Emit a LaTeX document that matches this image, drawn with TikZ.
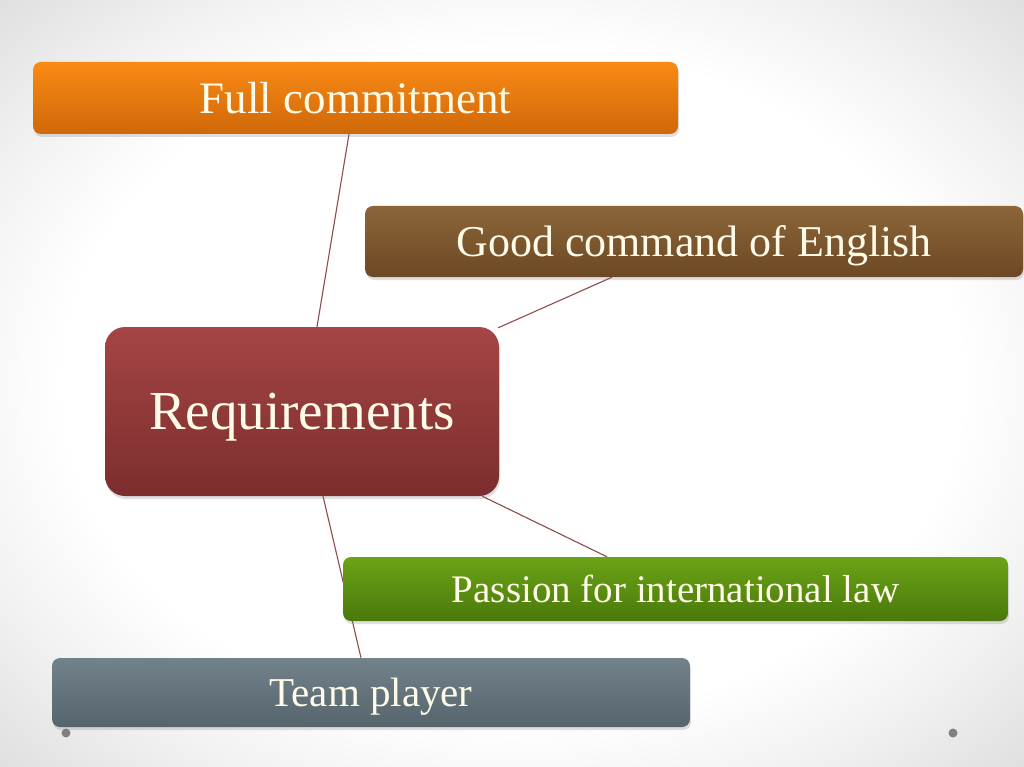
\documentclass[tikz,border=0pt]{standalone}
\usepackage{fontspec}
\setmainfont{Liberation Serif}
\usetikzlibrary{positioning, shadows, backgrounds}

\definecolor{orangeTop}{HTML}{FA8A14}
\definecolor{orangeBot}{HTML}{CF680A}
\definecolor{brownTop}{HTML}{8C6639}
\definecolor{brownBot}{HTML}{6C4824}
\definecolor{redTop}{HTML}{A54545}
\definecolor{redBot}{HTML}{7C2D2D}
\definecolor{greenTop}{HTML}{6AA416}
\definecolor{greenBot}{HTML}{4B780C}
\definecolor{grayTop}{HTML}{72828B}
\definecolor{grayBot}{HTML}{56656C}
\definecolor{linkColor}{HTML}{8E4B4B}
\definecolor{creamText}{HTML}{FFFBE8}

\pgfdeclareradialshading{slideBg}{\pgfpoint{0bp}{0bp}}{color(0bp)=(white); color(22bp)=(white); color(28bp)=(gray!10); color(36bp)=(gray!26); color(50bp)=(gray!26)}

\begin{document}
\begin{tikzpicture}[
    x=1pt, y=-1pt,
    topic/.style={rectangle, rounded corners=8pt, text centered, inner sep=0pt, text depth=0pt, text=creamText, drop shadow={shadow xshift=1pt, shadow yshift=-3pt, opacity=0.25}},
    hub/.style={topic, rounded corners=20pt, minimum width=394pt, minimum height=169pt, top color=redTop, bottom color=redBot, font=\fontsize{55}{62}\selectfont},
    link/.style={draw=linkColor, line width=1.1pt}
]

    \useasboundingbox (0,0) rectangle (1024,767);

    % Hub
    \node[hub] (req) at (302, 411.5) {Requirements};

    % Topics
    \node[topic, minimum width=645pt, minimum height=72pt, top color=orangeTop, bottom color=orangeBot, font=\fontsize{45}{52}\selectfont] (full) at (355.5, 98) {Full commitment};
    \node[topic, minimum width=658pt, minimum height=71pt, top color=brownTop, bottom color=brownBot, font=\fontsize{44}{52}\selectfont] (english) at (694, 241.5) {Good command of English};
    \node[topic, minimum width=665pt, minimum height=64pt, top color=greenTop, bottom color=greenBot, font=\fontsize{39}{46}\selectfont] (passion) at (675.5, 589) {Passion for international law};
    \node[topic, minimum width=638pt, minimum height=69pt, top color=grayTop, bottom color=grayBot, font=\fontsize{41}{48}\selectfont] (team) at (371, 692.5) {Team player};

    % Slide dots
    \node[circle, fill=gray, inner sep=0pt, minimum size=9pt] (dotL) at (66, 733) {};
    \node[circle, fill=gray, inner sep=0pt, minimum size=9pt] (dotR) at (953, 733) {};

    \begin{pgfonlayer}{background}
        % Slide background
        \shade[shading=slideBg] (0,0) rectangle (1024,767);

        % Links
        \draw[link] ([xshift=15pt]req.north) -- ([xshift=-6.5pt]full.south);
        \draw[link] ([xshift=-1pt, yshift=-1pt]req.north east) -- ([xshift=-82pt]english.south);
        \draw[link] ([xshift=-17pt]req.south east) -- ([xshift=-68.5pt]passion.north);
        \draw[link] ([xshift=21pt]req.south) -- ([xshift=-10pt]team.north);
    \end{pgfonlayer}

\end{tikzpicture}
\end{document}
